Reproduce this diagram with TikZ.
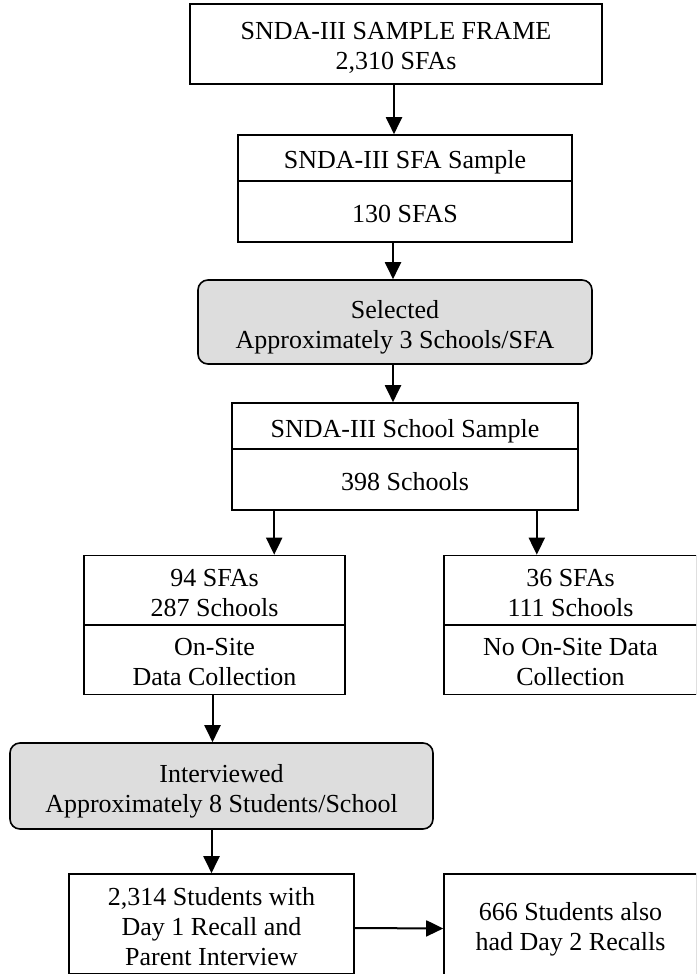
\documentclass[tikz,border=0pt]{standalone}
\usepackage{fontspec}
\setmainfont{Liberation Serif}
\usetikzlibrary{arrows.meta}
\definecolor{boxgray}{RGB}{221, 221, 221}

% text lines of a box, set a little low as in the original
\newcommand{\boxlines}[1]{\raisebox{0pt}[\dimexpr\height+5pt\relax][\depth]{\begin{tabular}{@{}c@{}}#1\end{tabular}}}

\tikzset{
  box/.style={draw=black, line width=0.8pt, inner sep=0pt,
    font=\fontsize{13}{15}\selectfont},
  roundbox/.style={box, fill=boxgray, rounded corners=5pt},
  arr/.style={line width=1pt, -{Triangle[width=8pt,length=8.5pt]}}
}

\begin{document}
\begin{tikzpicture}[x=0.5pt,y=-0.5pt]
   \useasboundingbox (0,0) rectangle (696,974);
   \clip (0,0) rectangle (696,974);
   % top of the tree
   \node[box, minimum width=206pt, minimum height=40pt] (frame) at (396,44)
      {\boxlines{SNDA-III SAMPLE FRAME\\2,310 SFAs}};
   \node[box, minimum width=167pt, minimum height=23pt] (sfatop) at (405,158)
      {\boxlines{SNDA-III SFA Sample}};
   \node[box, minimum width=167pt, minimum height=30.5pt] (sfabot) at (405,211.5)
      {\boxlines{130 SFAS}};
   \node[roundbox, minimum width=197pt, minimum height=42pt] (select) at (395,322)
      {\boxlines{Selected\\Approximately 3 Schools/SFA}};
   \node[box, minimum width=173pt, minimum height=23pt] (schooltop) at (405,426)
      {\boxlines{SNDA-III School Sample}};
   \node[box, minimum width=173pt, minimum height=30.5pt] (schoolbot) at (405,479.5)
      {\boxlines{398 Schools}};
   % two branches
   \node[box, minimum width=130.5pt, minimum height=34.5pt] (onsitetop) at (214.5,590.5)
      {\boxlines{94 SFAs\\287 Schools}};
   \node[box, minimum width=130.5pt, minimum height=34.5pt] (onsitebot) at (214.5,659.5)
      {\boxlines{On-Site\\Data Collection}};
   \node[box, minimum width=126.5pt, minimum height=34.5pt] (nositetop) at (570.5,590.5)
      {\boxlines{36 SFAs\\111 Schools}};
   \node[box, minimum width=126.5pt, minimum height=34.5pt] (nositebot) at (570.5,659.5)
      {\boxlines{No On-Site Data\\Collection}};
   % students
   \node[roundbox, minimum width=211.5pt, minimum height=43pt] (interv) at (221.5,786)
      {\boxlines{Interviewed\\Approximately 8 Students/School}};
   \node[box, minimum width=142.5pt, minimum height=50pt] (recall1) at (211.5,924)
      {\boxlines{2,314 Students with\\Day 1 Recall and\\Parent Interview}};
   \node[box, minimum width=126.5pt, minimum height=50.5pt] (recall2) at (570.5,924.5)
      {\boxlines{666 Students also\\had Day 2 Recalls}};

   \draw[arr] ([xshift=-1pt]frame.south) -- ([xshift=-1pt]frame.south |- sfatop.north);
   \draw[arr] ([xshift=-6pt]sfabot.south) -- ([xshift=-6pt]sfabot.south |- select.north);
   \draw[arr] ([xshift=-1pt]select.south) -- ([xshift=-1pt]select.south |- schooltop.north);
   \draw[arr] ([xshift=21.5pt]schoolbot.south west) -- ([xshift=21.5pt]schoolbot.south west |- onsitetop.north);
   \draw[arr] ([xshift=-21pt]schoolbot.south east) -- ([xshift=-21pt]schoolbot.south east |- nositetop.north);
   \draw[arr] ([xshift=-1pt]onsitebot.south) -- ([xshift=-1pt]onsitebot.south |- interv.north);
   \draw[arr] (interv.south -| recall1) -- (recall1);
   \draw[arr] ([yshift=-2pt]recall1.east) -- ([yshift=-2pt]recall2.west);
\end{tikzpicture}
\end{document}
